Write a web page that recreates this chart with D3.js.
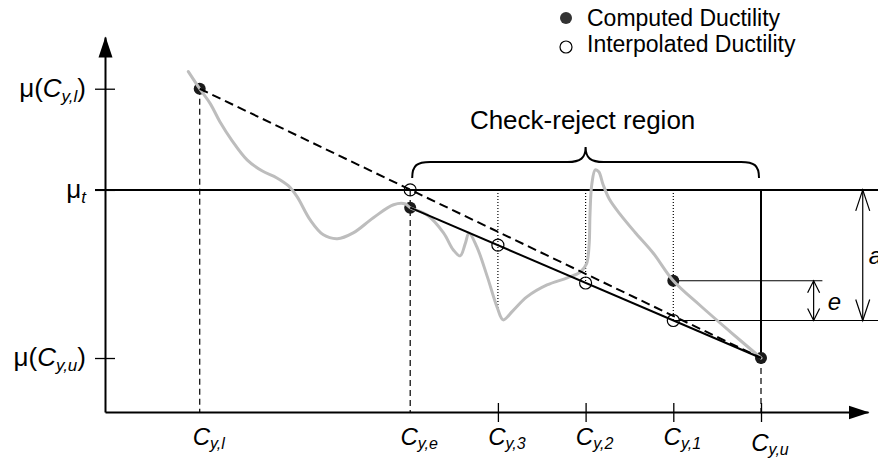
<!DOCTYPE html>
<html>
<head>
<meta charset="utf-8">
<script src="https://cdn.jsdelivr.net/npm/d3@7"></script>
<style>
  html, body { margin: 0; padding: 0; background: #fff; }
  svg { display: block; font-family: "Liberation Sans", Arial, Helvetica, sans-serif; }
</style>
</head>
<body>
<svg id="chart" width="878" height="459"></svg>
<script>
// Strength levels C_y on the horizontal axis
const strengthKeys   = ["l", "e", "3", "2", "1", "u"];
const strengthValues = [1.6, 4, 5, 6, 7, 8];
const tickedStrengths = [5, 6, 7, 8];

// Target ductility
const muTarget = 6.87;

// Ductility computed by analysis
const computedC  = [1.6, 4, 7, 8];
const computedMu = [10, 6.32, 4.06, 1.67];

// Ductility estimated by interpolation
const interpC  = [4, 5, 6, 7];
const interpMu = [6.87, 5.16, 3.99, 2.83];

// Lower ends of the dotted guides at the trial strengths
const guideC  = [5, 6, 7];
const guideMu = [3.16, 3.99, 2.83];

// Actual ductility response over the strength range
const curveC  = [1.47, 1.60, 1.72, 1.83, 1.97, 2.14, 2.31, 2.48, 2.61, 2.71, 2.86, 3.01, 3.17, 3.35, 3.58,
                 3.81, 3.94, 4.00, 4.19, 4.38, 4.49, 4.57, 4.63, 4.67, 4.76, 4.88, 4.99, 5.06, 5.17, 5.33,
                 5.56, 5.79, 5.94, 6.01, 6.04, 6.05, 6.07, 6.11, 6.15, 6.20, 6.27, 6.39, 6.56, 6.77, 7.00,
                 7.30, 7.65, 8.00];
const curveMu = [10.53, 10.00, 9.54, 8.98, 8.39, 7.80, 7.46, 7.24, 7.00, 6.66, 5.94, 5.48, 5.36, 5.54, 6.01,
                 6.41, 6.44, 6.32, 6.10, 5.54, 5.02, 4.83, 5.23, 5.54, 5.11, 4.18, 3.25, 2.85, 3.13, 3.56,
                 3.93, 4.15, 4.33, 4.58, 5.17, 6.10, 7.03, 7.49, 7.43, 7.03, 6.59, 6.13, 5.57, 4.92, 4.06,
                 3.31, 2.48, 1.67];

// Positions of the e and a dimension arrows (strength units)
const eArrowC = 8.60;
const aArrowC = 9.16;
const eLineEndC = 8.70;

const svg = d3.select("#chart");
const W = 878;

const x = d3.scaleLinear().domain([0.52, 9.22]).range([105, 868]);
const y = d3.scaleLinear().domain([0, 11.6]).range([412, 37]);

// Arrowhead for the axes
const defs = svg.append("defs");
defs.append("marker")
  .attr("id", "axisHead")
  .attr("markerUnits", "userSpaceOnUse")
  .attr("viewBox", "0 -8 22 16")
  .attr("refX", 20).attr("refY", 0)
  .attr("markerWidth", 22).attr("markerHeight", 16)
  .attr("orient", "auto")
  .append("path").attr("d", "M0,-7L21,0L0,7Z").attr("fill", "#000");

// Rich label helper: italic C with subscripts
function rich(textSel, parts, subSize, subDy) {
  parts.forEach(p => {
    const ts = textSel.append("tspan").text(p.t);
    if (p.i) ts.attr("font-style", "italic");
    if (p.sub) ts.attr("font-size", subSize).attr("dy", subDy);
    if (p.back) ts.attr("dy", -subDy);
  });
}

// ---- Axes ----
const xAxisG = svg.append("g")
  .attr("transform", `translate(0,${y(0)})`)
  .call(d3.axisBottom(x).tickValues(tickedStrengths).tickSizeInner(10).tickSizeOuter(0).tickFormat(""));
xAxisG.select(".domain").attr("stroke-width", 2).attr("marker-end", "url(#axisHead)");
xAxisG.selectAll(".tick line").attr("y1", -9).attr("y2", 10).attr("stroke-width", 1.3);

const yAxisG = svg.append("g")
  .attr("transform", `translate(${x(0.52)},0)`)
  .call(d3.axisLeft(y).tickValues([computedMu[0], muTarget, computedMu[3]]).tickSizeInner(10).tickSizeOuter(0).tickFormat(""));
yAxisG.select(".domain").attr("stroke-width", 2).attr("marker-end", "url(#axisHead)");
yAxisG.selectAll(".tick line").attr("x1", 10).attr("x2", -10).attr("stroke-width", 1.3);

// x tick labels
strengthKeys.forEach((k, i) => {
  const t = svg.append("text")
    .attr("x", x(strengthValues[i]) + 9)
    .attr("y", k === "u" ? 451 : 445)
    .attr("text-anchor", "middle")
    .attr("font-size", 24);
  rich(t, [{ t: "C", i: 1 }, { t: "y," + k, i: 1, sub: 1 }], 16, 4);
});

// y tick labels
const yLabels = [
  { v: computedMu[0], parts: [{ t: "μ(" }, { t: "C", i: 1 }, { t: "y,l", i: 1, sub: 1 }, { t: ")", back: 1 }] },
  { v: muTarget,      parts: [{ t: "μ" }, { t: "t", i: 1, sub: 1 }] },
  { v: computedMu[3], parts: [{ t: "μ(" }, { t: "C", i: 1 }, { t: "y,u", i: 1, sub: 1 }, { t: ")", back: 1 }] }
];
yLabels.forEach(d => {
  const t = svg.append("text")
    .attr("x", x(0.52) - 19)
    .attr("y", y(d.v) + 8)
    .attr("text-anchor", "end")
    .attr("font-size", 26);
  rich(t, d.parts, 17, 5);
});

// ---- Guide lines ----
const line = d3.line().x(d => x(d[0])).y(d => y(d[1]));

// target ductility level
svg.append("line")
  .attr("x1", x(0.52) - 10).attr("x2", W)
  .attr("y1", y(muTarget)).attr("y2", y(muTarget))
  .attr("stroke", "#000").attr("stroke-width", 2);

// dashed drops to the axis
[[computedC[0], computedMu[0]], [computedC[1], muTarget], [computedC[3], computedMu[3]]].forEach(d => {
  svg.append("line")
    .attr("x1", x(d[0])).attr("x2", x(d[0]))
    .attr("y1", y(d[1])).attr("y2", y(0))
    .attr("stroke", "#000").attr("stroke-width", 1.2)
    .attr("stroke-dasharray", "6,4");
});

// dotted guides at trial strengths
guideC.forEach((c, i) => {
  svg.append("line")
    .attr("x1", x(c)).attr("x2", x(c))
    .attr("y1", y(muTarget)).attr("y2", y(guideMu[i]))
    .attr("stroke", "#000").attr("stroke-width", 1.2)
    .attr("stroke-dasharray", "1,2");
});

// check-reject boundary at C_y,u
svg.append("line")
  .attr("x1", x(computedC[3])).attr("x2", x(computedC[3]))
  .attr("y1", y(muTarget)).attr("y2", y(computedMu[3]))
  .attr("stroke", "#000").attr("stroke-width", 2);

// dimension reference lines
svg.append("line")
  .attr("x1", x(computedC[2])).attr("x2", x(eLineEndC))
  .attr("y1", y(computedMu[2])).attr("y2", y(computedMu[2]))
  .attr("stroke", "#000").attr("stroke-width", 1.2);
svg.append("line")
  .attr("x1", x(interpC[3])).attr("x2", W)
  .attr("y1", y(interpMu[3])).attr("y2", y(interpMu[3]))
  .attr("stroke", "#000").attr("stroke-width", 1.2);

// double-headed dimension arrows
function dimArrow(cx, mu1, mu2, len, half) {
  const px = x(cx), y1 = y(mu1), y2 = y(mu2);
  const g = svg.append("g").attr("stroke", "#000").attr("fill", "none").attr("stroke-width", 1.2);
  g.append("line").attr("x1", px).attr("x2", px).attr("y1", y1).attr("y2", y2);
  g.append("path").attr("d", `M${px - half},${y1 + len}L${px},${y1}L${px + half},${y1 + len}`);
  g.append("path").attr("d", `M${px - half},${y2 - len}L${px},${y2}L${px + half},${y2 - len}`);
}
dimArrow(eArrowC, computedMu[2], interpMu[3], 12, 6);
dimArrow(aArrowC, muTarget, interpMu[3], 21, 7);

svg.append("text").attr("x", x(eArrowC) + 14).attr("y", y((computedMu[2] + interpMu[3]) / 2) + 9)
  .attr("font-size", 24).attr("font-style", "italic").text("e");
svg.append("text").attr("x", x(aArrowC) + 6).attr("y", y((muTarget + interpMu[3]) / 2) + 9)
  .attr("font-size", 24).attr("font-style", "italic").text("a");

// ---- Computed points (under the response curve) ----
computedC.forEach((c, i) => {
  svg.append("circle").attr("cx", x(c)).attr("cy", y(computedMu[i])).attr("r", 6).attr("fill", "#1a1a1a");
});

// ---- Response curve ----
svg.append("path")
  .datum(curveC.map((c, i) => [c, curveMu[i]]))
  .attr("d", line.curve(d3.curveCatmullRom.alpha(0.5)))
  .attr("fill", "none").attr("stroke", "#bdbdbd").attr("stroke-width", 3)
  .attr("stroke-linejoin", "round").attr("stroke-linecap", "round");
line.curve(d3.curveLinear);

// ---- Interpolation lines ----
svg.append("path")
  .datum([[computedC[0], computedMu[0]], [computedC[3], computedMu[3]]])
  .attr("d", line).attr("fill", "none").attr("stroke", "#000").attr("stroke-width", 2)
  .attr("stroke-dasharray", "9,5");
svg.append("path")
  .datum([[computedC[1], computedMu[1]], [computedC[3], computedMu[3]]])
  .attr("d", line).attr("fill", "none").attr("stroke", "#000").attr("stroke-width", 2);

// ---- Interpolated points ----
interpC.forEach((c, i) => {
  svg.append("circle").attr("cx", x(c)).attr("cy", y(interpMu[i])).attr("r", 6)
    .attr("fill", "none").attr("stroke", "#000").attr("stroke-width", 1.2);
});

// ---- Check-reject brace ----
const xl = x(strengthValues[1]) + 2, xr = x(strengthValues[5]) - 2, xm = x(strengthValues[3]);
const yb = 178, yh = 162, yt = 147;
svg.append("path")
  .attr("d", `M${xl},${yb}C${xl},${yh + 3} ${xl + 5},${yh} ${xl + 18},${yh}` +
             `L${xm - 18},${yh}C${xm - 5},${yh} ${xm},${yh - 4} ${xm},${yt}` +
             `C${xm},${yh - 4} ${xm + 5},${yh} ${xm + 18},${yh}` +
             `L${xr - 18},${yh}C${xr - 5},${yh} ${xr},${yh + 3} ${xr},${yb}`)
  .attr("fill", "none").attr("stroke", "#000").attr("stroke-width", 2);
svg.append("text").attr("x", xm - 3).attr("y", 129).attr("text-anchor", "middle")
  .attr("font-size", 26).text("Check-reject region");

// ---- Legend ----
const legend = svg.append("g");
legend.append("circle").attr("cx", 566).attr("cy", 18).attr("r", 6).attr("fill", "#333");
legend.append("text").attr("x", 587).attr("y", 26).attr("font-size", 23).text("Computed Ductility");
legend.append("circle").attr("cx", 566).attr("cy", 47).attr("r", 6)
  .attr("fill", "#fff").attr("stroke", "#000").attr("stroke-width", 1.2);
legend.append("text").attr("x", 587).attr("y", 52).attr("font-size", 23).text("Interpolated Ductility");
</script>
</body>
</html>
